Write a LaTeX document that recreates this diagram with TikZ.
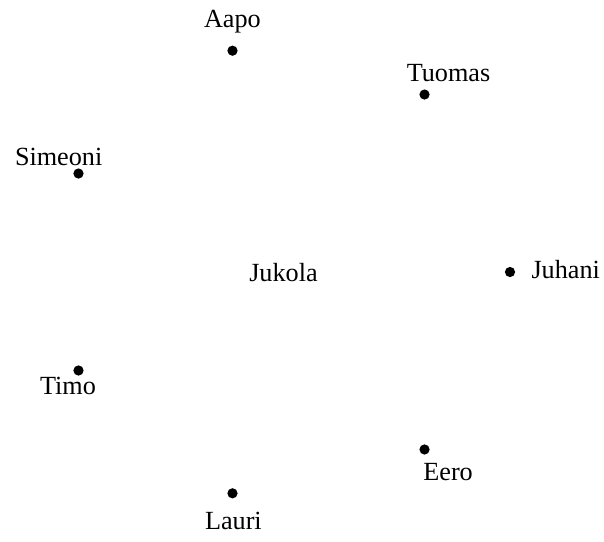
\documentclass[tikz,border=0pt]{standalone}
\usepackage{fontspec}
\setmainfont{Liberation Serif}
\usetikzlibrary{positioning}
\tikzset{
  brother/.style={circle,fill=black,inner sep=0pt,minimum size=3.9pt},
  brothername/.style={inner sep=0pt,anchor=base west},
}

\begin{document}
\begin{tikzpicture}[x=0.3817pt,y=0.3817pt]
  \useasboundingbox (-283,-269) rectangle (321,272);
  \node[inner sep=0pt,anchor=base] (jukola) at (0.5,-9) {Jukola};
  % seven brothers round the house
  \foreach \k/\who/\dx/\dy in {0/Juhani/21/-6.7, 1/Tuomas/-18.3/12.7, 2/Aapo/-29/23.4,
      3/Simeoni/-64/8, 4/Timo/-39/-24.3, 5/Lauri/-28/-36.3, 6/Eero/-1.7/-30.7}{
    \node[brother] (\who) at ({\k*360/7}:227) {};
    \node[brothername] (\who-name) at ([shift={(\dx,\dy)}]\who.center) {\who};
  }
\end{tikzpicture}
\end{document}
